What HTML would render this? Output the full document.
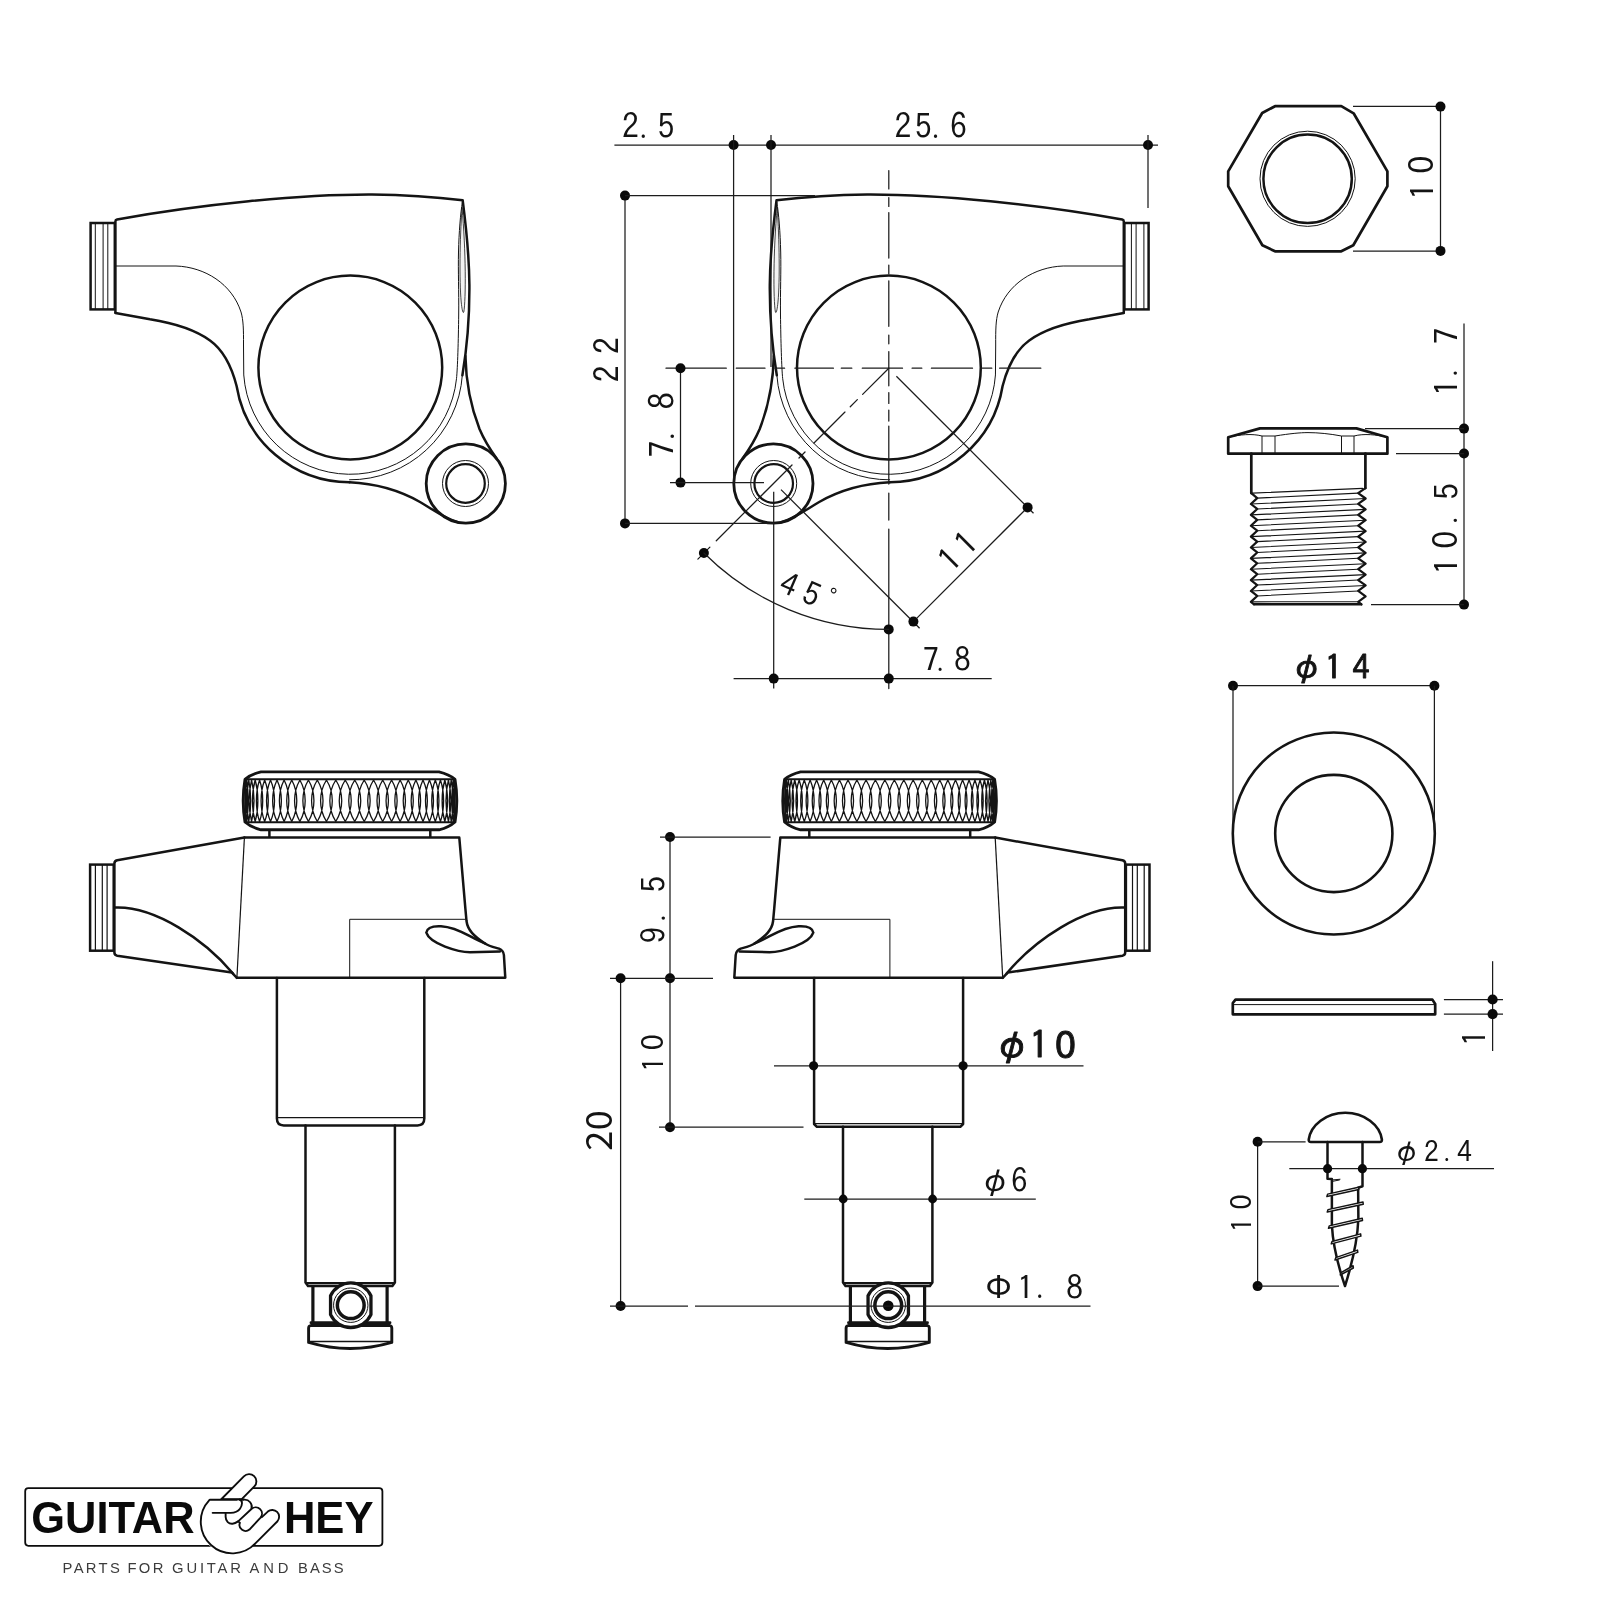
<!DOCTYPE html>
<html lang="en"><head><meta charset="utf-8"><title>Tuner dimensions</title>
<style>html,body{margin:0;padding:0;background:#fff}svg{display:block;will-change:transform}</style></head>
<body><svg width="1600" height="1600" viewBox="0 0 1600 1600">
<rect width="1600" height="1600" fill="#ffffff"/>
<g id="tl">
<rect x="90.6" y="223" width="24.2" height="86.4" fill="none" stroke="#141414" stroke-width="2.5"/>
<line x1="95.30" y1="223.00" x2="95.30" y2="309.40" stroke="#141414" stroke-width="1.0" />
<line x1="103.10" y1="223.00" x2="103.10" y2="309.40" stroke="#141414" stroke-width="1.0" />
<line x1="107.80" y1="223.00" x2="107.80" y2="309.40" stroke="#141414" stroke-width="1.0" />
<path d="M115.4 312.6 L115.4 221.4 Q115.4 219.8 117 219.5 C200 204.5 300 194.3 372 194.6 C410 195 440 197.6 462.7 200.3 C466 226 469.2 255 469.4 285 C469.6 318 467.5 345 462.4 375.3" fill="none" stroke="#141414" stroke-width="2.5" stroke-linejoin="round" stroke-linecap="round" />
<path d="M465.4 356 C466 383 470.5 406 479.5 429 C485 442 490.5 450 496.6 458.5" fill="none" stroke="#141414" stroke-width="2.5" stroke-linejoin="round" stroke-linecap="round" />
<circle cx="465.80" cy="483.50" r="39.60" fill="none" stroke="#141414" stroke-width="2.8"/>
<path d="M349.4 482.3 C375 483.5 398 489.5 420 502 C436 511.5 446 519 458 522.3" fill="none" stroke="#141414" stroke-width="2.5" stroke-linejoin="round" stroke-linecap="round" />
<path d="M349.4 482.3 A114.8 114.8 0 0 1 236.6 386 C233 372 226 352 210 340.5 C192 327.5 170 322.5 150 319.3 L115.4 312.9" fill="none" stroke="#141414" stroke-width="2.5" stroke-linejoin="round" stroke-linecap="round" />
<circle cx="350.30" cy="367.50" r="91.90" fill="none" stroke="#141414" stroke-width="2.5"/>
<path d="M116 266 L176 266 C205 267 232 284 241 312 C243.4 320 243.6 330 243.50 345 L243.76 374.95 A106.8 106.8 0 0 0 456.51 378.66 C457.6 368 458.4 340 458.7 315 C459 290 458 272 458.5 252 C459 232 460.4 214 462.4 202" fill="none" stroke="#141414" stroke-width="1.0" stroke-linejoin="round" stroke-linecap="round" />
<path d="M349.52 479.80 A112.3 112.3 0 0 0 462.33 375.33" fill="none" stroke="#141414" stroke-width="1.0" stroke-linejoin="round" stroke-linecap="round" />
<path d="M462 208 C459.8 240 459.2 280 461.2 302 C462 310 463 314 463.8 312 C466 300 466 250 462 208 Z" fill="#f2f2f2" stroke="#141414" stroke-width="0.8" stroke-linejoin="round" stroke-linecap="round" />
<circle cx="465.50" cy="483.50" r="23.00" fill="none" stroke="#141414" stroke-width="1.0"/>
<circle cx="465.50" cy="483.50" r="19.30" fill="none" stroke="#141414" stroke-width="2.2"/>
</g>
<g id="tm" transform="translate(1239.2 0) scale(-1 1)">
<rect x="90.6" y="223" width="24.2" height="86.4" fill="none" stroke="#141414" stroke-width="2.5"/>
<line x1="95.30" y1="223.00" x2="95.30" y2="309.40" stroke="#141414" stroke-width="1.0" />
<line x1="103.10" y1="223.00" x2="103.10" y2="309.40" stroke="#141414" stroke-width="1.0" />
<line x1="107.80" y1="223.00" x2="107.80" y2="309.40" stroke="#141414" stroke-width="1.0" />
<path d="M115.4 312.6 L115.4 221.4 Q115.4 219.8 117 219.5 C200 204.5 300 194.3 372 194.6 C410 195 440 197.6 462.7 200.3 C466 226 469.2 255 469.4 285 C469.6 318 467.5 345 462.4 375.3" fill="none" stroke="#141414" stroke-width="2.5" stroke-linejoin="round" stroke-linecap="round" />
<path d="M465.4 356 C466 383 470.5 406 479.5 429 C485 442 490.5 450 496.6 458.5" fill="none" stroke="#141414" stroke-width="2.5" stroke-linejoin="round" stroke-linecap="round" />
<circle cx="465.80" cy="483.50" r="39.60" fill="none" stroke="#141414" stroke-width="2.8"/>
<path d="M349.4 482.3 C375 483.5 398 489.5 420 502 C436 511.5 446 519 458 522.3" fill="none" stroke="#141414" stroke-width="2.5" stroke-linejoin="round" stroke-linecap="round" />
<path d="M349.4 482.3 A114.8 114.8 0 0 1 236.6 386 C233 372 226 352 210 340.5 C192 327.5 170 322.5 150 319.3 L115.4 312.9" fill="none" stroke="#141414" stroke-width="2.5" stroke-linejoin="round" stroke-linecap="round" />
<circle cx="350.30" cy="367.50" r="91.90" fill="none" stroke="#141414" stroke-width="2.5"/>
<path d="M116 266 L176 266 C205 267 232 284 241 312 C243.4 320 243.6 330 243.50 345 L243.76 374.95 A106.8 106.8 0 0 0 456.51 378.66 C457.6 368 458.4 340 458.7 315 C459 290 458 272 458.5 252 C459 232 460.4 214 462.4 202" fill="none" stroke="#141414" stroke-width="1.0" stroke-linejoin="round" stroke-linecap="round" />
<path d="M349.52 479.80 A112.3 112.3 0 0 0 462.33 375.33" fill="none" stroke="#141414" stroke-width="1.0" stroke-linejoin="round" stroke-linecap="round" />
<path d="M462 208 C459.8 240 459.2 280 461.2 302 C462 310 463 314 463.8 312 C466 300 466 250 462 208 Z" fill="#f2f2f2" stroke="#141414" stroke-width="0.8" stroke-linejoin="round" stroke-linecap="round" />
<circle cx="465.50" cy="483.50" r="23.00" fill="none" stroke="#141414" stroke-width="1.0"/>
<circle cx="465.50" cy="483.50" r="19.30" fill="none" stroke="#141414" stroke-width="2.2"/>
</g>
<g id="bl">
<path d="M261 771.9 L439 771.9 Q449 774.2 455 779.4 Q458.6 800.7 455 822 Q449 827.4 439 829.8 L261 829.8 Q251 827.4 245 822 Q241.4 800.7 245 779.4 Q251 774.2 261 771.9 Z" fill="none" stroke="#141414" stroke-width="2.9" stroke-linejoin="round" stroke-linecap="round" />
<line x1="245.00" y1="779.30" x2="455.00" y2="779.30" stroke="#141414" stroke-width="2.1" />
<line x1="245.00" y1="822.20" x2="455.00" y2="822.20" stroke="#141414" stroke-width="2.1" />
<path d="M245.75 780.0 C244.82 792.45 244.82 809.05 245.75 821.5 C246.68 809.05 246.68 792.45 245.75 780.0 M246.85 780.0 C245.23 792.45 245.23 809.05 246.85 821.5 C248.46 809.05 248.46 792.45 246.85 780.0 M248.79 780.0 C246.50 792.45 246.50 809.05 248.79 821.5 C251.09 809.05 251.09 792.45 248.79 780.0 M251.58 780.0 C248.62 792.45 248.62 809.05 251.58 821.5 C254.53 809.05 254.53 792.45 251.58 780.0 M255.17 780.0 C251.58 792.45 251.58 809.05 255.17 821.5 C258.77 809.05 258.77 792.45 255.17 780.0 M259.56 780.0 C255.35 792.45 255.35 809.05 259.56 821.5 C263.76 809.05 263.76 792.45 259.56 780.0 M264.68 780.0 C259.90 792.45 259.90 809.05 264.68 821.5 C269.47 809.05 269.47 792.45 264.68 780.0 M270.52 780.0 C265.19 792.45 265.19 809.05 270.52 821.5 C275.85 809.05 275.85 792.45 270.52 780.0 M277.01 780.0 C271.17 792.45 271.17 809.05 277.01 821.5 C282.85 809.05 282.85 792.45 277.01 780.0 M284.11 780.0 C277.81 792.45 277.81 809.05 284.11 821.5 C290.41 809.05 290.41 792.45 284.11 780.0 M291.75 780.0 C285.04 792.45 285.04 809.05 291.75 821.5 C298.46 809.05 298.46 792.45 291.75 780.0 M299.87 780.0 C292.80 792.45 292.80 809.05 299.87 821.5 C306.94 809.05 306.94 792.45 299.87 780.0 M308.41 780.0 C301.03 792.45 301.03 809.05 308.41 821.5 C315.78 809.05 315.78 792.45 308.41 780.0 M317.29 780.0 C309.67 792.45 309.67 809.05 317.29 821.5 C324.91 809.05 324.91 792.45 317.29 780.0 M326.44 780.0 C318.63 792.45 318.63 809.05 326.44 821.5 C334.24 809.05 334.24 792.45 326.44 780.0 M335.78 780.0 C327.86 792.45 327.86 809.05 335.78 821.5 C343.71 809.05 343.71 792.45 335.78 780.0 M345.25 780.0 C337.26 792.45 337.26 809.05 345.25 821.5 C353.24 809.05 353.24 792.45 345.25 780.0 M354.75 780.0 C346.76 792.45 346.76 809.05 354.75 821.5 C362.74 809.05 362.74 792.45 354.75 780.0 M364.22 780.0 C356.29 792.45 356.29 809.05 364.22 821.5 C372.14 809.05 372.14 792.45 364.22 780.0 M373.56 780.0 C365.76 792.45 365.76 809.05 373.56 821.5 C381.37 809.05 381.37 792.45 373.56 780.0 M382.71 780.0 C375.09 792.45 375.09 809.05 382.71 821.5 C390.33 809.05 390.33 792.45 382.71 780.0 M391.59 780.0 C384.22 792.45 384.22 809.05 391.59 821.5 C398.97 809.05 398.97 792.45 391.59 780.0 M400.13 780.0 C393.06 792.45 393.06 809.05 400.13 821.5 C407.20 809.05 407.20 792.45 400.13 780.0 M408.25 780.0 C401.54 792.45 401.54 809.05 408.25 821.5 C414.96 809.05 414.96 792.45 408.25 780.0 M415.89 780.0 C409.59 792.45 409.59 809.05 415.89 821.5 C422.19 809.05 422.19 792.45 415.89 780.0 M422.99 780.0 C417.15 792.45 417.15 809.05 422.99 821.5 C428.83 809.05 428.83 792.45 422.99 780.0 M429.48 780.0 C424.15 792.45 424.15 809.05 429.48 821.5 C434.81 809.05 434.81 792.45 429.48 780.0 M435.32 780.0 C430.53 792.45 430.53 809.05 435.32 821.5 C440.10 809.05 440.10 792.45 435.32 780.0 M440.44 780.0 C436.24 792.45 436.24 809.05 440.44 821.5 C444.65 809.05 444.65 792.45 440.44 780.0 M444.83 780.0 C441.23 792.45 441.23 809.05 444.83 821.5 C448.42 809.05 448.42 792.45 444.83 780.0 M448.42 780.0 C445.47 792.45 445.47 809.05 448.42 821.5 C451.38 809.05 451.38 792.45 448.42 780.0 M451.21 780.0 C448.91 792.45 448.91 809.05 451.21 821.5 C453.50 809.05 453.50 792.45 451.21 780.0 M453.15 780.0 C451.54 792.45 451.54 809.05 453.15 821.5 C454.77 809.05 454.77 792.45 453.15 780.0 M454.25 780.0 C453.32 792.45 453.32 809.05 454.25 821.5 C455.18 809.05 455.18 792.45 454.25 780.0" fill="none" stroke="#141414" stroke-width="1.3" stroke-linejoin="round" stroke-linecap="round" />
<line x1="269.40" y1="829.80" x2="269.40" y2="837.30" stroke="#141414" stroke-width="2.5" />
<line x1="430.30" y1="829.80" x2="430.30" y2="837.30" stroke="#141414" stroke-width="2.5" />
<path d="M244.4 837.6 L459.3 837.6 C460.6 851 462.8 878 465.4 908.8 L466.5 921 C467.6 930 474 936.2 484.5 943.2 C490 946.8 496 947.6 499 948.6 C502 949.8 503.6 952 503.9 955 L505.3 977.8 L236.9 977.8" fill="none" stroke="#141414" stroke-width="2.5" stroke-linejoin="round" stroke-linecap="round" />
<line x1="244.40" y1="837.60" x2="236.90" y2="977.80" stroke="#141414" stroke-width="1.2" />
<path d="M244.4 837.6 L117.2 860.2 Q114.4 860.8 114.4 863.4 L114.4 952.6 Q114.4 955.2 117.2 955.7 L231.9 972.6 L236.9 977.8" fill="none" stroke="#141414" stroke-width="2.5" stroke-linejoin="round" stroke-linecap="round" />
<path d="M115.1 907.6 C155 906 205 940 233 973.5" fill="none" stroke="#141414" stroke-width="2.5" stroke-linejoin="round" stroke-linecap="round" />
<rect x="90.1" y="864.6" width="23.6" height="86.1" fill="none" stroke="#141414" stroke-width="2.5"/>
<line x1="95.40" y1="864.60" x2="95.40" y2="950.70" stroke="#141414" stroke-width="1.2" />
<line x1="102.30" y1="864.60" x2="102.30" y2="950.70" stroke="#141414" stroke-width="1.2" />
<line x1="107.10" y1="864.60" x2="107.10" y2="950.70" stroke="#141414" stroke-width="1.2" />
<path d="M349.7 977.5 L349.7 919.3 L465.2 919.3" fill="none" stroke="#141414" stroke-width="1.0" stroke-linejoin="round" stroke-linecap="round" />
<path d="M426.3 932.6 C427 927.6 433 925.8 441 926.2 C452 926.8 462 931.8 470 936.2 C476 939.4 480 941.5 485 943.4 M426.3 932.6 C428 938 436 943 445 946.6 C455 950.4 462 952.2 470 952.2 L500 951.4" fill="none" stroke="#141414" stroke-width="2.5" stroke-linejoin="round" stroke-linecap="round" />
<path d="M276.9 978 L276.9 1118.6 Q276.9 1125.4 283.7 1125.4 L417.5 1125.4 Q424.3 1125.4 424.3 1118.6 L424.3 978" fill="none" stroke="#141414" stroke-width="2.5" stroke-linejoin="round" stroke-linecap="round" />
<line x1="277.60" y1="1117.60" x2="423.60" y2="1117.60" stroke="#141414" stroke-width="1.2" />
<path d="M305.5 1125.4 L305.5 1282.6 L308 1286 L392.4 1286 L394.9 1282.6 L394.9 1125.4" fill="none" stroke="#141414" stroke-width="2.5" stroke-linejoin="round" stroke-linecap="round" />
<line x1="306.00" y1="1283.20" x2="394.40" y2="1283.20" stroke="#141414" stroke-width="2.2" />
<line x1="312.90" y1="1285.00" x2="312.90" y2="1323.00" stroke="#141414" stroke-width="3.2" />
<line x1="387.10" y1="1285.00" x2="387.10" y2="1323.00" stroke="#141414" stroke-width="3.2" />
<path d="M311 1322.8 L390 1322.8 M310.5 1325.6 Q308.6 1325.8 308.6 1328.2 L308.6 1342.4 A147.5 147.5 0 0 0 391.8 1342.4 L391.8 1328.2 Q391.8 1325.8 389.9 1325.6 L310.5 1325.6" fill="none" stroke="#141414" stroke-width="2.9" stroke-linejoin="round" stroke-linecap="round" />
<line x1="309.00" y1="1341.40" x2="391.40" y2="1341.40" stroke="#141414" stroke-width="1.5" />
<path d="M330.55 1295.75 A22.3 22.3 0 0 1 370.95 1295.75 L370.95 1314.65 A22.3 22.3 0 0 1 330.55 1314.65 Z" fill="#fff" stroke="#141414" stroke-width="3.3" stroke-linejoin="round"/>
<circle cx="350.75" cy="1305.20" r="17.20" fill="none" stroke="#141414" stroke-width="1.0"/>
<circle cx="350.75" cy="1305.20" r="13.40" fill="none" stroke="#141414" stroke-width="3.5"/>
</g>
<g id="bm" transform="translate(1239.6 0) scale(-1 1)">
<path d="M261 771.9 L439 771.9 Q449 774.2 455 779.4 Q458.6 800.7 455 822 Q449 827.4 439 829.8 L261 829.8 Q251 827.4 245 822 Q241.4 800.7 245 779.4 Q251 774.2 261 771.9 Z" fill="none" stroke="#141414" stroke-width="2.9" stroke-linejoin="round" stroke-linecap="round" />
<line x1="245.00" y1="779.30" x2="455.00" y2="779.30" stroke="#141414" stroke-width="2.1" />
<line x1="245.00" y1="822.20" x2="455.00" y2="822.20" stroke="#141414" stroke-width="2.1" />
<path d="M245.75 780.0 C244.82 792.45 244.82 809.05 245.75 821.5 C246.68 809.05 246.68 792.45 245.75 780.0 M246.85 780.0 C245.23 792.45 245.23 809.05 246.85 821.5 C248.46 809.05 248.46 792.45 246.85 780.0 M248.79 780.0 C246.50 792.45 246.50 809.05 248.79 821.5 C251.09 809.05 251.09 792.45 248.79 780.0 M251.58 780.0 C248.62 792.45 248.62 809.05 251.58 821.5 C254.53 809.05 254.53 792.45 251.58 780.0 M255.17 780.0 C251.58 792.45 251.58 809.05 255.17 821.5 C258.77 809.05 258.77 792.45 255.17 780.0 M259.56 780.0 C255.35 792.45 255.35 809.05 259.56 821.5 C263.76 809.05 263.76 792.45 259.56 780.0 M264.68 780.0 C259.90 792.45 259.90 809.05 264.68 821.5 C269.47 809.05 269.47 792.45 264.68 780.0 M270.52 780.0 C265.19 792.45 265.19 809.05 270.52 821.5 C275.85 809.05 275.85 792.45 270.52 780.0 M277.01 780.0 C271.17 792.45 271.17 809.05 277.01 821.5 C282.85 809.05 282.85 792.45 277.01 780.0 M284.11 780.0 C277.81 792.45 277.81 809.05 284.11 821.5 C290.41 809.05 290.41 792.45 284.11 780.0 M291.75 780.0 C285.04 792.45 285.04 809.05 291.75 821.5 C298.46 809.05 298.46 792.45 291.75 780.0 M299.87 780.0 C292.80 792.45 292.80 809.05 299.87 821.5 C306.94 809.05 306.94 792.45 299.87 780.0 M308.41 780.0 C301.03 792.45 301.03 809.05 308.41 821.5 C315.78 809.05 315.78 792.45 308.41 780.0 M317.29 780.0 C309.67 792.45 309.67 809.05 317.29 821.5 C324.91 809.05 324.91 792.45 317.29 780.0 M326.44 780.0 C318.63 792.45 318.63 809.05 326.44 821.5 C334.24 809.05 334.24 792.45 326.44 780.0 M335.78 780.0 C327.86 792.45 327.86 809.05 335.78 821.5 C343.71 809.05 343.71 792.45 335.78 780.0 M345.25 780.0 C337.26 792.45 337.26 809.05 345.25 821.5 C353.24 809.05 353.24 792.45 345.25 780.0 M354.75 780.0 C346.76 792.45 346.76 809.05 354.75 821.5 C362.74 809.05 362.74 792.45 354.75 780.0 M364.22 780.0 C356.29 792.45 356.29 809.05 364.22 821.5 C372.14 809.05 372.14 792.45 364.22 780.0 M373.56 780.0 C365.76 792.45 365.76 809.05 373.56 821.5 C381.37 809.05 381.37 792.45 373.56 780.0 M382.71 780.0 C375.09 792.45 375.09 809.05 382.71 821.5 C390.33 809.05 390.33 792.45 382.71 780.0 M391.59 780.0 C384.22 792.45 384.22 809.05 391.59 821.5 C398.97 809.05 398.97 792.45 391.59 780.0 M400.13 780.0 C393.06 792.45 393.06 809.05 400.13 821.5 C407.20 809.05 407.20 792.45 400.13 780.0 M408.25 780.0 C401.54 792.45 401.54 809.05 408.25 821.5 C414.96 809.05 414.96 792.45 408.25 780.0 M415.89 780.0 C409.59 792.45 409.59 809.05 415.89 821.5 C422.19 809.05 422.19 792.45 415.89 780.0 M422.99 780.0 C417.15 792.45 417.15 809.05 422.99 821.5 C428.83 809.05 428.83 792.45 422.99 780.0 M429.48 780.0 C424.15 792.45 424.15 809.05 429.48 821.5 C434.81 809.05 434.81 792.45 429.48 780.0 M435.32 780.0 C430.53 792.45 430.53 809.05 435.32 821.5 C440.10 809.05 440.10 792.45 435.32 780.0 M440.44 780.0 C436.24 792.45 436.24 809.05 440.44 821.5 C444.65 809.05 444.65 792.45 440.44 780.0 M444.83 780.0 C441.23 792.45 441.23 809.05 444.83 821.5 C448.42 809.05 448.42 792.45 444.83 780.0 M448.42 780.0 C445.47 792.45 445.47 809.05 448.42 821.5 C451.38 809.05 451.38 792.45 448.42 780.0 M451.21 780.0 C448.91 792.45 448.91 809.05 451.21 821.5 C453.50 809.05 453.50 792.45 451.21 780.0 M453.15 780.0 C451.54 792.45 451.54 809.05 453.15 821.5 C454.77 809.05 454.77 792.45 453.15 780.0 M454.25 780.0 C453.32 792.45 453.32 809.05 454.25 821.5 C455.18 809.05 455.18 792.45 454.25 780.0" fill="none" stroke="#141414" stroke-width="1.3" stroke-linejoin="round" stroke-linecap="round" />
<line x1="269.40" y1="829.80" x2="269.40" y2="837.30" stroke="#141414" stroke-width="2.5" />
<line x1="430.30" y1="829.80" x2="430.30" y2="837.30" stroke="#141414" stroke-width="2.5" />
<path d="M244.4 837.6 L459.3 837.6 C460.6 851 462.8 878 465.4 908.8 L466.5 921 C467.6 930 474 936.2 484.5 943.2 C490 946.8 496 947.6 499 948.6 C502 949.8 503.6 952 503.9 955 L505.3 977.8 L236.9 977.8" fill="none" stroke="#141414" stroke-width="2.5" stroke-linejoin="round" stroke-linecap="round" />
<line x1="244.40" y1="837.60" x2="236.90" y2="977.80" stroke="#141414" stroke-width="1.2" />
<path d="M244.4 837.6 L117.2 860.2 Q114.4 860.8 114.4 863.4 L114.4 952.6 Q114.4 955.2 117.2 955.7 L231.9 972.6 L236.9 977.8" fill="none" stroke="#141414" stroke-width="2.5" stroke-linejoin="round" stroke-linecap="round" />
<path d="M115.1 907.6 C155 906 205 940 233 973.5" fill="none" stroke="#141414" stroke-width="2.5" stroke-linejoin="round" stroke-linecap="round" />
<rect x="90.1" y="864.6" width="23.6" height="86.1" fill="none" stroke="#141414" stroke-width="2.5"/>
<line x1="95.40" y1="864.60" x2="95.40" y2="950.70" stroke="#141414" stroke-width="1.2" />
<line x1="102.30" y1="864.60" x2="102.30" y2="950.70" stroke="#141414" stroke-width="1.2" />
<line x1="107.10" y1="864.60" x2="107.10" y2="950.70" stroke="#141414" stroke-width="1.2" />
<path d="M349.7 977.5 L349.7 919.3 L465.2 919.3" fill="none" stroke="#141414" stroke-width="1.0" stroke-linejoin="round" stroke-linecap="round" />
<path d="M426.3 932.6 C427 927.6 433 925.8 441 926.2 C452 926.8 462 931.8 470 936.2 C476 939.4 480 941.5 485 943.4 M426.3 932.6 C428 938 436 943 445 946.6 C455 950.4 462 952.2 470 952.2 L500 951.4" fill="none" stroke="#141414" stroke-width="2.5" stroke-linejoin="round" stroke-linecap="round" />
</g>
<g id="bmpost" transform="translate(537.5 0)">
<path d="M276.6 978 L276.6 1124 L279.4 1126.8 L422.8 1126.8 L425.6 1124 L425.6 978" fill="none" stroke="#141414" stroke-width="2.5" stroke-linejoin="round" stroke-linecap="round" />
<line x1="277.50" y1="1123.70" x2="424.80" y2="1123.70" stroke="#141414" stroke-width="1.2" />
<path d="M305.5 1126.8 L305.5 1282.6 L308 1286 L392.4 1286 L394.9 1282.6 L394.9 1126.8" fill="none" stroke="#141414" stroke-width="2.5" stroke-linejoin="round" stroke-linecap="round" />
<line x1="306.00" y1="1283.20" x2="394.40" y2="1283.20" stroke="#141414" stroke-width="2.2" />
<line x1="312.90" y1="1285.00" x2="312.90" y2="1323.00" stroke="#141414" stroke-width="3.2" />
<line x1="387.10" y1="1285.00" x2="387.10" y2="1323.00" stroke="#141414" stroke-width="3.2" />
<path d="M311 1322.8 L390 1322.8 M310.5 1325.6 Q308.6 1325.8 308.6 1328.2 L308.6 1342.4 A147.5 147.5 0 0 0 391.8 1342.4 L391.8 1328.2 Q391.8 1325.8 389.9 1325.6 L310.5 1325.6" fill="none" stroke="#141414" stroke-width="2.9" stroke-linejoin="round" stroke-linecap="round" />
<line x1="309.00" y1="1341.40" x2="391.40" y2="1341.40" stroke="#141414" stroke-width="1.5" />
<path d="M330.55 1295.75 A22.3 22.3 0 0 1 370.95 1295.75 L370.95 1314.65 A22.3 22.3 0 0 1 330.55 1314.65 Z" fill="#fff" stroke="#141414" stroke-width="3.3" stroke-linejoin="round"/>
<circle cx="350.75" cy="1305.20" r="17.20" fill="none" stroke="#141414" stroke-width="1.0"/>
<circle cx="350.75" cy="1305.20" r="13.40" fill="none" stroke="#141414" stroke-width="3.5"/>
<circle cx="350.75" cy="1305.70" r="5.3" fill="#0a0a0a"/>
</g>
<path d="M1275 106.2 L1341.3 106.2 L1353.6 113.3 L1387.4 171.4 L1387.4 186.2 L1353.3 245.2 L1341.3 251.3 L1275 251.3 L1262.4 245.2 L1228.2 186.2 L1228.2 171.4 L1262.2 113 Z" fill="none" stroke="#141414" stroke-width="2.7" stroke-linejoin="round" stroke-linecap="round" />
<circle cx="1307.60" cy="178.80" r="47.60" fill="none" stroke="#141414" stroke-width="1.0"/>
<circle cx="1307.60" cy="178.80" r="44.20" fill="none" stroke="#141414" stroke-width="2.5"/>
<path d="M1228.2 437.2 L1260 428.4 L1356.4 428.4 L1387.4 437.2 L1387.4 453.7 L1228.2 453.7 Z" fill="none" stroke="#141414" stroke-width="2.7" stroke-linejoin="round" stroke-linecap="round" />
<path d="M1228.2 437.2 C1240 434.6 1252 433.4 1262 436 L1275 436 C1290 433.6 1300 432.6 1308 432.6 C1318 432.6 1330 433.8 1341.5 436 L1354 436 C1364 433.4 1376 434.6 1387.4 437.2" fill="none" stroke="#141414" stroke-width="1.0" stroke-linejoin="round" stroke-linecap="round" />
<line x1="1262.00" y1="436.00" x2="1262.00" y2="453.70" stroke="#141414" stroke-width="1.0" />
<line x1="1275.00" y1="436.00" x2="1275.00" y2="453.70" stroke="#141414" stroke-width="1.0" />
<line x1="1341.50" y1="436.00" x2="1341.50" y2="453.70" stroke="#141414" stroke-width="1.0" />
<line x1="1354.00" y1="436.00" x2="1354.00" y2="453.70" stroke="#141414" stroke-width="1.0" />
<path d="M1251.3 453.7 L1251.3 493.1 M1365.4 453.7 L1365.4 488.1" fill="none" stroke="#141414" stroke-width="2.7" stroke-linejoin="round" stroke-linecap="round" />
<path d="M1252.5 493.1 L1362.60 488.4 M1257.2 498.10 L1358.2 493.10 M1250.9 504.00 L1365.6 498.50 M1257.2 508.97 L1358.2 503.97 M1250.9 514.87 L1365.6 509.37 M1257.2 519.84 L1358.2 514.84 M1250.9 525.74 L1365.6 520.24 M1257.2 530.71 L1358.2 525.71 M1250.9 536.61 L1365.6 531.11 M1257.2 541.58 L1358.2 536.58 M1250.9 547.48 L1365.6 541.98 M1257.2 552.45 L1358.2 547.45 M1250.9 558.35 L1365.6 552.85 M1257.2 563.32 L1358.2 558.32 M1250.9 569.22 L1365.6 563.72 M1257.2 574.19 L1358.2 569.19 M1250.9 580.09 L1365.6 574.59 M1257.2 585.06 L1358.2 580.06 M1250.9 590.96 L1365.6 585.46 M1257.2 595.93 L1358.2 590.93 M1250.9 601.83 L1358.2 601.80" fill="none" stroke="#141414" stroke-width="1.1" stroke-linejoin="round" stroke-linecap="round" />
<path d="M1251.3 493.1 L1257.2 498.10 L1250.9 504.00 L1257.2 508.97 L1250.9 514.87 L1257.2 519.84 L1250.9 525.74 L1257.2 530.71 L1250.9 536.61 L1257.2 541.58 L1250.9 547.48 L1257.2 552.45 L1250.9 558.35 L1257.2 563.32 L1250.9 569.22 L1257.2 574.19 L1250.9 580.09 L1257.2 585.06 L1250.9 590.96 L1257.2 595.93 L1250.9 601.83 L1254 604.3" fill="none" stroke="#141414" stroke-width="2.2" stroke-linejoin="round" stroke-linecap="round" stroke-miterlimit="3"/>
<path d="M1365.4 488.1 L1358.2 493.10 L1365.6 498.50 L1358.2 503.97 L1365.6 509.37 L1358.2 514.84 L1365.6 520.24 L1358.2 525.71 L1365.6 531.11 L1358.2 536.58 L1365.6 541.98 L1358.2 547.45 L1365.6 552.85 L1358.2 558.32 L1365.6 563.72 L1358.2 569.19 L1365.6 574.59 L1358.2 580.06 L1365.6 585.46 L1358.2 590.93 L1365.6 596.33 L1358.2 601.80 L1361.6 604.3" fill="none" stroke="#141414" stroke-width="2.2" stroke-linejoin="round" stroke-linecap="round" />
<line x1="1253.60" y1="604.30" x2="1362.00" y2="604.30" stroke="#141414" stroke-width="2.5" />
<circle cx="1333.80" cy="833.50" r="101.00" fill="none" stroke="#141414" stroke-width="2.6"/>
<circle cx="1333.80" cy="833.50" r="58.60" fill="none" stroke="#141414" stroke-width="2.6"/>
<path d="M1232.8 1003 L1235.5 999.6 L1432.4 999.6 L1435.2 1004 L1435.2 1014.3 L1232.8 1014.3 Z" fill="none" stroke="#141414" stroke-width="2.7" stroke-linejoin="round" stroke-linecap="round" />
<line x1="1233.00" y1="1004.60" x2="1435.00" y2="1004.60" stroke="#141414" stroke-width="1.0" />
<g transform="translate(1290 1100) scale(0.125)" fill="none" stroke="#141414" stroke-linejoin="round" stroke-linecap="round">
<path d="M168 336 Q148 336 150 316 C165 200 290 102 442 102 C595 102 720 200 735 316 Q737 336 717 336 Z" stroke-width="21"/>
<path d="M300 336 L300 630 L335 632 L335 1000 C340 1100 365 1270 440 1488 C490 1330 540 1130 547 950 L545 702 L580 690 L580 336" stroke-width="20"/>
<path d="M295 772 L301 753 L548 698 L550 716 Z M298 896 L304 877 L584 816 L586 834 Z M308 1026 L314 1007 L578 946 L580 964 Z M330 1151 L336 1132 L565 1071 L567 1089 Z M360 1280 L366 1261 L540 1201 L542 1219 Z M402 1400 L408 1381 L505 1326 L507 1344 Z" stroke-width="12" fill="#fff"/>
<path d="M335 640 L400 634 M345 650 L395 640" stroke-width="8"/>
</g>
<line x1="614.40" y1="145.00" x2="1158.00" y2="145.00" stroke="#1c1c1c" stroke-width="1.25" />
<circle cx="733.60" cy="145.00" r="5.0" fill="#0a0a0a"/>
<circle cx="771.00" cy="145.00" r="5.0" fill="#0a0a0a"/>
<circle cx="1148.00" cy="145.00" r="5.0" fill="#0a0a0a"/>
<line x1="733.60" y1="135.00" x2="733.60" y2="484.00" stroke="#1c1c1c" stroke-width="1.25" />
<line x1="771.00" y1="135.00" x2="771.00" y2="367.00" stroke="#1c1c1c" stroke-width="1.25" />
<line x1="773.70" y1="491.80" x2="773.70" y2="688.50" stroke="#1c1c1c" stroke-width="1.25" />
<line x1="1148.00" y1="135.00" x2="1148.00" y2="208.00" stroke="#1c1c1c" stroke-width="1.25" />
<text transform="translate(630.20 137.80) rotate(0)" x="0.17 13.20 35.88" y="1.36 0.00 1.36" font-size="33.9" font-family="IPAGothic, 'Liberation Sans', sans-serif" text-anchor="middle" fill="#141414">2<tspan font-family="'Noto Sans CJK JP', 'Liberation Sans', sans-serif" font-weight="300" font-size="32.20">.</tspan>5</text>
<text transform="translate(902.80 137.80) rotate(0)" x="0.17 20.43 32.80 55.80" y="1.36 1.36 0.00 1.36" font-size="33.9" font-family="IPAGothic, 'Liberation Sans', sans-serif" text-anchor="middle" fill="#141414">25<tspan font-family="'Noto Sans CJK JP', 'Liberation Sans', sans-serif" font-weight="300" font-size="32.20">.</tspan>6</text>
<line x1="625.00" y1="195.60" x2="625.00" y2="523.40" stroke="#1c1c1c" stroke-width="1.25" />
<circle cx="625.00" cy="195.60" r="5.0" fill="#0a0a0a"/>
<circle cx="625.00" cy="523.40" r="5.0" fill="#0a0a0a"/>
<line x1="625.00" y1="195.60" x2="815.00" y2="195.60" stroke="#1c1c1c" stroke-width="1.25" />
<line x1="625.00" y1="523.40" x2="774.00" y2="523.40" stroke="#1c1c1c" stroke-width="1.25" />
<text transform="translate(618.80 374.00) rotate(-90)" x="0.17 28.37" y="1.36 1.36" font-size="33.9" font-family="IPAGothic, 'Liberation Sans', sans-serif" text-anchor="middle" fill="#141414">22</text>
<path d="M888.8 170.5 L888.8 188.9 M888.8 197.6 L888.8 206.4 M888.8 212.5 L888.8 258 M888.8 265 L888.8 273.8 M888.8 280.8 L888.8 326.3 M888.8 335 L888.8 343.8 M888.8 351.6 L888.8 385.8 M888.8 392.6 L888.8 403.4 M888.8 410 L888.8 421 M888.8 426 L888.8 484 M888.8 493 L888.8 520 M888.8 529 L888.8 688.5" fill="none" stroke="#1c1c1c" stroke-width="1.25" stroke-linejoin="round" stroke-linecap="round" stroke-linecap="butt"/>
<path d="M666 368.2 L726.3 368.2 M736.3 368.2 L765 368.2 M775 368.2 L784.6 368.2 M794.9 368.2 L833.4 368.2 M841.3 368.2 L851.8 368.2 M862.3 368.2 L902.5 368.2 M912.1 368.2 L921.8 368.2 M931.4 368.2 L972.5 368.2 M981.3 368.2 L991.8 368.2 M999.6 368.2 L1040.8 368.2" fill="none" stroke="#1c1c1c" stroke-width="1.25" stroke-linejoin="round" stroke-linecap="round" />
<line x1="680.50" y1="368.20" x2="680.50" y2="482.60" stroke="#1c1c1c" stroke-width="1.25" />
<circle cx="680.50" cy="368.20" r="5.0" fill="#0a0a0a"/>
<circle cx="680.50" cy="482.60" r="5.0" fill="#0a0a0a"/>
<line x1="670.00" y1="482.60" x2="764.00" y2="482.60" stroke="#1c1c1c" stroke-width="1.25" />
<text transform="translate(674.00 449.30) rotate(-90)" x="0.17 13.20 48.60" y="1.36 0.00 1.36" font-size="33.9" font-family="IPAGothic, 'Liberation Sans', sans-serif" text-anchor="middle" fill="#141414">7<tspan font-family="'Noto Sans CJK JP', 'Liberation Sans', sans-serif" font-weight="300" font-size="32.20">.</tspan>8</text>
<path d="M888.80 368.20 L862.64 394.36 M857.33 399.67 L850.26 406.74 M844.96 412.04 L813.99 443.01 M805.01 451.99 L799.00 458.00 M792.00 465.00 L716.27 540.73 M709.90 547.10 L697.88 559.12" fill="none" stroke="#1c1c1c" stroke-width="1.25" stroke-linejoin="round" stroke-linecap="round" />
<circle cx="703.90" cy="553.00" r="5.0" fill="#0a0a0a"/>
<circle cx="888.70" cy="629.40" r="5.0" fill="#0a0a0a"/>
<path d="M703.9 553 A261.3 261.3 0 0 0 888.7 629.4" fill="none" stroke="#1c1c1c" stroke-width="1.25" stroke-linejoin="round" stroke-linecap="round" />
<line x1="896.40" y1="376.20" x2="1033.50" y2="513.30" stroke="#1c1c1c" stroke-width="1.25" />
<line x1="781.00" y1="489.60" x2="919.60" y2="628.20" stroke="#1c1c1c" stroke-width="1.25" />
<line x1="1027.60" y1="507.40" x2="913.40" y2="621.60" stroke="#1c1c1c" stroke-width="1.25" />
<circle cx="1027.60" cy="507.40" r="5.0" fill="#0a0a0a"/>
<circle cx="913.40" cy="621.60" r="5.0" fill="#0a0a0a"/>
<text transform="translate(956.50 568.25) rotate(-45)" x="1.36 24.66" y="1.36 1.36" font-size="33.9" font-family="IPAGothic, 'Liberation Sans', sans-serif" text-anchor="middle" fill="#141414">11</text>
<text transform="translate(784.85 593.90) rotate(23.5)" x="0.00 24.64 52.14" y="1.28 1.28 -4.16" font-size="32" font-family="IPAGothic, 'Liberation Sans', sans-serif" text-anchor="middle" fill="#141414">45<tspan font-size="25.60">°</tspan></text>
<line x1="733.60" y1="678.60" x2="991.70" y2="678.60" stroke="#1c1c1c" stroke-width="1.25" />
<circle cx="773.70" cy="678.60" r="5.0" fill="#0a0a0a"/>
<circle cx="888.80" cy="678.60" r="5.0" fill="#0a0a0a"/>
<text transform="translate(930.60 671.00) rotate(0)" x="0.16 9.40 31.90" y="1.30 0.00 1.30" font-size="32.5" font-family="IPAGothic, 'Liberation Sans', sans-serif" text-anchor="middle" fill="#141414">7<tspan font-family="'Noto Sans CJK JP', 'Liberation Sans', sans-serif" font-weight="300" font-size="30.88">.</tspan>8</text>
<line x1="670.00" y1="837.00" x2="670.00" y2="1127.20" stroke="#1c1c1c" stroke-width="1.25" />
<circle cx="670.00" cy="837.00" r="5.0" fill="#0a0a0a"/>
<circle cx="670.00" cy="978.30" r="5.0" fill="#0a0a0a"/>
<circle cx="670.00" cy="1127.20" r="5.0" fill="#0a0a0a"/>
<line x1="660.00" y1="837.00" x2="770.60" y2="837.00" stroke="#1c1c1c" stroke-width="1.25" />
<line x1="610.00" y1="978.30" x2="713.00" y2="978.30" stroke="#1c1c1c" stroke-width="1.25" />
<line x1="659.00" y1="1127.20" x2="803.50" y2="1127.20" stroke="#1c1c1c" stroke-width="1.25" />
<text transform="translate(665.00 935.00) rotate(-90)" x="-0.17 17.00 50.83" y="1.33 0.00 1.33" font-size="33.3" font-family="IPAGothic, 'Liberation Sans', sans-serif" text-anchor="middle" fill="#141414">9<tspan font-family="'Noto Sans CJK JP', 'Liberation Sans', sans-serif" font-weight="300" font-size="31.63">.</tspan>5</text>
<text transform="translate(662.50 1065.50) rotate(-90)" x="1.19 23.30" y="1.19 0.00" font-size="29.8" font-family="IPAGothic, 'Liberation Sans', sans-serif" text-anchor="middle" fill="#141414">1<tspan font-family="'Noto Sans CJK JP', 'Liberation Sans', sans-serif" font-weight="400" font-size="29.80">0</tspan></text>
<line x1="620.60" y1="978.30" x2="620.60" y2="1306.00" stroke="#1c1c1c" stroke-width="1.25" />
<circle cx="620.60" cy="978.30" r="5.0" fill="#0a0a0a"/>
<circle cx="620.60" cy="1306.00" r="5.0" fill="#0a0a0a"/>
<line x1="610.00" y1="1306.00" x2="688.00" y2="1306.00" stroke="#1c1c1c" stroke-width="1.25" />
<line x1="695.00" y1="1306.00" x2="1090.50" y2="1306.00" stroke="#1c1c1c" stroke-width="1.25" />
<text transform="translate(612.00 1140.75) rotate(-90)" x="0.00 20.60" y="0 0" font-size="36" font-family="'Noto Sans CJK JP', 'Liberation Sans', sans-serif" text-anchor="middle" fill="#141414">20</text>
<line x1="774.00" y1="1065.80" x2="1083.50" y2="1065.80" stroke="#1c1c1c" stroke-width="1.25" />
<circle cx="813.60" cy="1065.80" r="4.6" fill="#0a0a0a"/>
<circle cx="963.10" cy="1065.80" r="4.6" fill="#0a0a0a"/>
<text transform="translate(1011.90 1057.60) rotate(0)" x="0.00 27.14 53.60" y="1.54 1.54 0.00" font-size="38.5" font-family="IPAGothic, 'Liberation Sans', sans-serif" text-anchor="middle" fill="#141414" stroke="#141414" stroke-width="0.9" stroke-linejoin="round">φ1<tspan font-family="'Noto Sans CJK JP', 'Liberation Sans', sans-serif" font-weight="400" font-size="38.50">0</tspan></text>
<line x1="804.30" y1="1199.00" x2="1035.80" y2="1199.00" stroke="#1c1c1c" stroke-width="1.25" />
<circle cx="843.20" cy="1199.00" r="4.4" fill="#0a0a0a"/>
<circle cx="932.60" cy="1199.00" r="4.4" fill="#0a0a0a"/>
<text transform="translate(995.00 1191.40) rotate(0)" x="0.00 24.40" y="1.33 1.33" font-size="33.2" font-family="IPAGothic, 'Liberation Sans', sans-serif" text-anchor="middle" fill="#141414">φ6</text>
<text transform="translate(998.70 1298.20) rotate(0)" x="0.00 26.93 40.90 75.90" y="1.33 1.33 0.00 1.33" font-size="33.2" font-family="IPAGothic, 'Liberation Sans', sans-serif" text-anchor="middle" fill="#141414">Φ1<tspan font-family="'Noto Sans CJK JP', 'Liberation Sans', sans-serif" font-weight="300" font-size="31.54">.</tspan>8</text>
<line x1="1353.00" y1="106.40" x2="1440.50" y2="106.40" stroke="#1c1c1c" stroke-width="1.25" />
<line x1="1353.00" y1="251.00" x2="1440.50" y2="251.00" stroke="#1c1c1c" stroke-width="1.25" />
<line x1="1440.50" y1="106.40" x2="1440.50" y2="251.00" stroke="#1c1c1c" stroke-width="1.25" />
<circle cx="1440.50" cy="106.60" r="5.0" fill="#0a0a0a"/>
<circle cx="1440.50" cy="250.90" r="5.0" fill="#0a0a0a"/>
<text transform="translate(1433.20 192.60) rotate(-90)" x="1.34 27.90" y="1.34 0.00" font-size="33.6" font-family="IPAGothic, 'Liberation Sans', sans-serif" text-anchor="middle" fill="#141414">1<tspan font-family="'Noto Sans CJK JP', 'Liberation Sans', sans-serif" font-weight="400" font-size="33.60">0</tspan></text>
<line x1="1464.00" y1="323.60" x2="1464.00" y2="604.60" stroke="#1c1c1c" stroke-width="1.25" />
<circle cx="1464.00" cy="428.60" r="5.0" fill="#0a0a0a"/>
<circle cx="1464.00" cy="453.50" r="5.0" fill="#0a0a0a"/>
<circle cx="1464.00" cy="604.60" r="5.0" fill="#0a0a0a"/>
<line x1="1365.00" y1="428.60" x2="1464.00" y2="428.60" stroke="#1c1c1c" stroke-width="1.25" />
<line x1="1396.00" y1="453.50" x2="1464.00" y2="453.50" stroke="#1c1c1c" stroke-width="1.25" />
<line x1="1371.00" y1="604.60" x2="1464.00" y2="604.60" stroke="#1c1c1c" stroke-width="1.25" />
<text transform="translate(1457.20 389.00) rotate(-90)" x="1.33 16.00 52.97" y="1.33 0.00 1.33" font-size="33.3" font-family="IPAGothic, 'Liberation Sans', sans-serif" text-anchor="middle" fill="#141414">1<tspan font-family="'Noto Sans CJK JP', 'Liberation Sans', sans-serif" font-weight="300" font-size="31.63">.</tspan>7</text>
<text transform="translate(1457.20 567.60) rotate(-90)" x="1.33 27.90 47.30 76.23" y="1.33 0.00 0.00 1.33" font-size="33.3" font-family="IPAGothic, 'Liberation Sans', sans-serif" text-anchor="middle" fill="#141414">1<tspan font-family="'Noto Sans CJK JP', 'Liberation Sans', sans-serif" font-weight="400" font-size="33.30">0</tspan><tspan font-family="'Noto Sans CJK JP', 'Liberation Sans', sans-serif" font-weight="300" font-size="31.63">.</tspan>5</text>
<line x1="1233.00" y1="685.70" x2="1434.40" y2="685.70" stroke="#1c1c1c" stroke-width="1.25" />
<circle cx="1233.00" cy="685.70" r="5.0" fill="#0a0a0a"/>
<circle cx="1434.40" cy="685.70" r="5.0" fill="#0a0a0a"/>
<line x1="1233.00" y1="685.70" x2="1233.00" y2="830.00" stroke="#1c1c1c" stroke-width="1.25" />
<line x1="1434.40" y1="685.70" x2="1434.40" y2="830.00" stroke="#1c1c1c" stroke-width="1.25" />
<text transform="translate(1306.60 678.25) rotate(0)" x="0.00 26.86 54.40" y="1.36 1.36 1.36" font-size="33.9" font-family="IPAGothic, 'Liberation Sans', sans-serif" text-anchor="middle" fill="#141414" stroke="#141414" stroke-width="0.9" stroke-linejoin="round">φ14</text>
<line x1="1492.60" y1="961.20" x2="1492.60" y2="1051.00" stroke="#1c1c1c" stroke-width="1.25" />
<line x1="1443.90" y1="999.50" x2="1503.00" y2="999.50" stroke="#1c1c1c" stroke-width="1.25" />
<line x1="1443.90" y1="1014.10" x2="1503.00" y2="1014.10" stroke="#1c1c1c" stroke-width="1.25" />
<circle cx="1492.60" cy="999.50" r="5.1" fill="#0a0a0a"/>
<circle cx="1492.60" cy="1014.10" r="5.1" fill="#0a0a0a"/>
<text transform="translate(1485.90 1039.40) rotate(-90)" x="1.33" y="1.33" font-size="33.2" font-family="IPAGothic, 'Liberation Sans', sans-serif" text-anchor="middle" fill="#141414">1</text>
<line x1="1257.60" y1="1141.80" x2="1257.60" y2="1286.10" stroke="#1c1c1c" stroke-width="1.25" />
<circle cx="1257.60" cy="1141.80" r="5.0" fill="#0a0a0a"/>
<circle cx="1257.60" cy="1286.10" r="5.0" fill="#0a0a0a"/>
<line x1="1257.60" y1="1141.80" x2="1305.60" y2="1141.80" stroke="#1c1c1c" stroke-width="1.25" />
<line x1="1257.60" y1="1286.10" x2="1339.00" y2="1286.10" stroke="#1c1c1c" stroke-width="1.25" />
<text transform="translate(1250.50 1226.20) rotate(-90)" x="1.13 24.20" y="1.13 0.00" font-size="28.2" font-family="IPAGothic, 'Liberation Sans', sans-serif" text-anchor="middle" fill="#141414">1<tspan font-family="'Noto Sans CJK JP', 'Liberation Sans', sans-serif" font-weight="400" font-size="28.20">0</tspan></text>
<line x1="1289.30" y1="1168.70" x2="1494.00" y2="1168.70" stroke="#1c1c1c" stroke-width="1.25" />
<circle cx="1327.60" cy="1168.70" r="4.6" fill="#0a0a0a"/>
<circle cx="1362.40" cy="1168.70" r="4.6" fill="#0a0a0a"/>
<text transform="translate(1406.60 1160.50) rotate(0)" x="0.00 24.95 40.15 57.80" y="1.19 1.19 0.00 1.19" font-size="29.7" font-family="IPAGothic, 'Liberation Sans', sans-serif" text-anchor="middle" fill="#141414">φ2<tspan font-family="'Noto Sans CJK JP', 'Liberation Sans', sans-serif" font-weight="300" font-size="28.21">.</tspan>4</text>
<rect x="25.2" y="1488.1" width="357.2" height="57.7" rx="3.2" ry="3.2" fill="none" stroke="#0c0c0c" stroke-width="1.8"/>
<text x="31.3" y="1532.6" font-family="'Liberation Sans', Arial, sans-serif" font-weight="bold" font-size="44" fill="#0a0a0a" textLength="163.2" lengthAdjust="spacingAndGlyphs">GUITAR</text>
<text x="283.9" y="1532.6" font-family="'Liberation Sans', Arial, sans-serif" font-weight="bold" font-size="44" fill="#0a0a0a" textLength="89.6" lengthAdjust="spacingAndGlyphs">HEY</text>
<text y="1573.3" font-family="'Liberation Sans', Arial, sans-serif" font-size="14.8" fill="#3c3c3c"><tspan x="62.6" textLength="57.2" lengthAdjust="spacing">PARTS</tspan> <tspan x="127.5" textLength="35.9" lengthAdjust="spacing">FOR</tspan> <tspan x="172.1" textLength="68.8" lengthAdjust="spacing">GUITAR</tspan> <tspan x="249.6" textLength="38.8" lengthAdjust="spacing">AND</tspan> <tspan x="298.0" textLength="45.6" lengthAdjust="spacing">BASS</tspan></text>
<g transform="translate(190 1465) scale(0.0625)" stroke="#0c0c0c" stroke-width="30" stroke-linecap="round" stroke-linejoin="round" fill="#fff">
<path d="M500 548 L862 182 A116 116 0 0 1 1030 342 L828 545 Z"/>
<path d="M320 555 A505 505 0 1 0 1050 1250 L1400 900 A110 110 0 0 0 1245 745 L1150 835 L985 660 L870 555 Z" stroke="none"/>
<path d="M870 555 L322 555 Q312 556 306 566 A505 505 0 1 0 1050 1250 L1400 900 A110 110 0 0 0 1245 745 L1150 835" fill="none"/>
<path d="M790 555 L865 555 A115 115 0 0 1 985 700 M570 770 L570 830 C572 900 620 945 680 940 C720 937 745 920 770 902" />
<path d="M790 556 C852 562 836 650 800 700 C768 745 720 765 650 765 L362 765" />
<path d="M987 700 A101 101 0 0 1 1129 842 L951 1033 A97 97 0 0 1 798 925 L770 902 Z"/>
</g>
</svg></body></html>
